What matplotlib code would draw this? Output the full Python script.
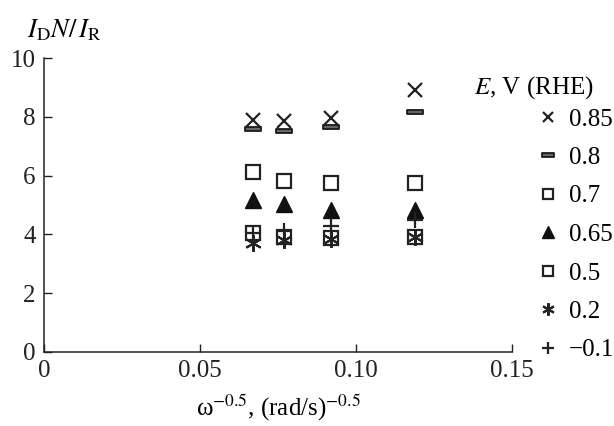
#!/usr/bin/env python3

import matplotlib
matplotlib.use("Agg")
import matplotlib.pyplot as plt
from matplotlib.path import Path

# omega^-0.5 values, (rad/s)^-0.5
omega_inv_sqrt = [0.067, 0.077, 0.092, 0.119]

# I_D N / I_R at each potential E, V (RHE)
e_085 = [7.90, 7.85, 7.95, 8.90]
e_080 = [7.58, 7.52, 7.65, 8.17]
e_070 = [6.12, 5.80, 5.76, 5.76]
e_065 = [5.17, 5.04, 4.84, 4.84]
e_050 = [4.06, 3.92, 3.88, 3.90]
e_020 = [3.70, 3.82, 3.83, 3.92]
e_m010 = [4.05, 4.13, 4.30, 4.50]

labels = ["0.85", "0.8", "0.7", "0.65", "0.5", "0.2", "\u22120.1"]
x_ticks = [0, 0.05, 0.10, 0.15]
x_tick_labels = ["0", "0.05", "0.10", "0.15"]
y_ticks = [0, 2, 4, 6, 8, 10]

plt.rcParams["font.family"] = ["Liberation Serif", "DejaVu Serif"]
plt.rcParams["mathtext.fontset"] = "stix"
plt.rcParams["font.size"] = 18

dash = Path([(-1, -0.28), (1, -0.28), (1, 0.28), (-1, 0.28), (-1, -0.28)],
            [Path.MOVETO, Path.LINETO, Path.LINETO, Path.LINETO, Path.CLOSEPOLY])

styles = [
    dict(marker="x", ms=10, mew=1.6, color="#222222"),
    dict(marker=dash, ms=12, mew=1.3, color="#1a1a1a", mfc="#666666"),
    dict(marker="s", ms=10, mew=1.6, color="#222222", mfc="none"),
    dict(marker="^", ms=11, mew=1.0, color="#111111"),
    dict(marker="s", ms=10, mew=1.6, color="#222222", mfc="none"),
    dict(marker=(6, 2, 0), ms=12, mew=1.5, color="#222222"),
    dict(marker="+", ms=12, mew=1.6, color="#222222"),
]
series = [e_085, e_080, e_070, e_065, e_050, e_020, e_m010]

fig = plt.figure(figsize=(6.14, 4.26), dpi=100)
ax = fig.add_axes([44 / 614, 1 - 352 / 426, 468 / 614, 294 / 426])

handles = []
for ys, st, lab in zip(series, styles, labels):
    (h,) = ax.plot(omega_inv_sqrt, ys, linestyle="none", label=lab, **st)
    handles.append(h)

ax.set_xlim(0, 0.15)
ax.set_ylim(0, 10)
ax.set_xticks(x_ticks)
ax.set_xticklabels(x_tick_labels)
ax.set_yticks(y_ticks)
for side in ["top", "right"]:
    ax.spines[side].set_visible(False)
for side in ["left", "bottom"]:
    ax.spines[side].set_linewidth(1.1)
    ax.spines[side].set_color("#222222")
ax.tick_params(direction="in", length=6, width=1.0, pad=6, colors="#222222")

ax.set_xlabel("\u03c9$^{-0.5}$, (rad/s)$^{-0.5}$", fontsize=18)
ax.xaxis.set_label_coords(0.5, -0.14)
ax.xaxis.label.set_va("top")

fig.text(27 / 614, 1 - 37 / 426, "$I_{\\mathrm{D}}N/\\,I_{\\mathrm{R}}$",
         ha="left", va="baseline", fontsize=19)
fig.text(474 / 614, 1 - 88 / 426, "$E$, V (RHE)", ha="left", va="center",
         fontsize=18)

leg = fig.legend(handles=handles, loc="upper left",
                 bbox_to_anchor=(540 / 614, 1 - 108 / 426),
                 frameon=False, markerscale=0.75, handlelength=0.6,
                 handletextpad=0.55, labelspacing=0.64, borderpad=0,
                 borderaxespad=0, fontsize=18)

fig.savefig("out.png", dpi=100)
